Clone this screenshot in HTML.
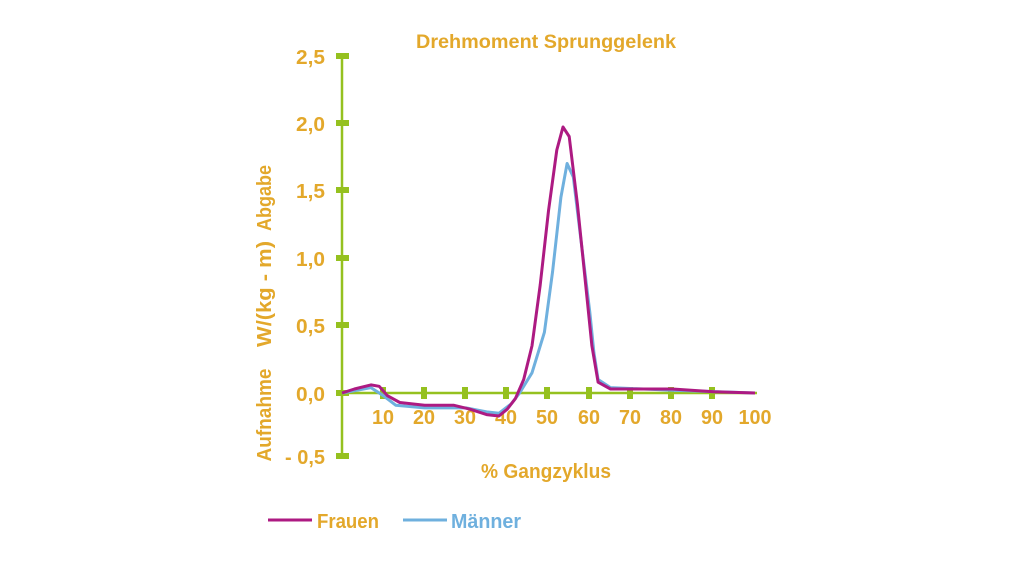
<!DOCTYPE html>
<html><head><meta charset="utf-8"><style>
body{margin:0;width:1024px;height:576px;background:#fff;overflow:hidden}
svg text{font-family:"Liberation Sans",sans-serif;font-weight:bold;fill:#e3a82b}
</style></head><body>
<svg width="1024" height="576" viewBox="0 0 1024 576">
<text x="546" y="48" font-size="19" text-anchor="middle" textLength="260" lengthAdjust="spacingAndGlyphs">Drehmoment Sprunggelenk</text>
<g stroke="#95c11f" stroke-width="2.5"><line x1="342" y1="56" x2="342" y2="457"/><line x1="342" y1="393" x2="757" y2="393"/></g>
<g fill="#95c11f">
<rect x="336" y="53" width="13" height="6"/><rect x="336" y="120" width="13" height="6"/><rect x="336" y="187" width="13" height="6"/><rect x="336" y="255" width="13" height="6"/><rect x="336" y="322" width="13" height="6"/><rect x="336" y="390" width="13" height="6"/><rect x="336" y="453" width="13" height="6"/>
<rect x="380" y="387" width="6" height="12"/><rect x="421" y="387" width="6" height="12"/><rect x="462" y="387" width="6" height="12"/><rect x="503" y="387" width="6" height="12"/><rect x="544" y="387" width="6" height="12"/><rect x="586" y="387" width="6" height="12"/><rect x="627" y="387" width="6" height="12"/><rect x="668" y="387" width="6" height="12"/><rect x="709" y="387" width="6" height="12"/>
</g>
<g font-size="20" text-anchor="end">
<text x="325" y="64" textLength="29" lengthAdjust="spacingAndGlyphs">2,5</text><text x="325" y="131" textLength="29" lengthAdjust="spacingAndGlyphs">2,0</text><text x="325" y="198" textLength="29" lengthAdjust="spacingAndGlyphs">1,5</text><text x="325" y="266" textLength="29" lengthAdjust="spacingAndGlyphs">1,0</text><text x="325" y="333" textLength="29" lengthAdjust="spacingAndGlyphs">0,5</text><text x="325" y="401" textLength="29" lengthAdjust="spacingAndGlyphs">0,0</text><text x="325" y="464" textLength="40" lengthAdjust="spacingAndGlyphs">- 0,5</text>
</g>
<g font-size="20" text-anchor="middle">
<text x="383" y="424" textLength="22" lengthAdjust="spacingAndGlyphs">10</text><text x="424" y="424" textLength="22" lengthAdjust="spacingAndGlyphs">20</text><text x="465" y="424" textLength="22" lengthAdjust="spacingAndGlyphs">30</text><text x="506" y="424" textLength="22" lengthAdjust="spacingAndGlyphs">40</text><text x="547" y="424" textLength="22" lengthAdjust="spacingAndGlyphs">50</text><text x="589" y="424" textLength="22" lengthAdjust="spacingAndGlyphs">60</text><text x="630" y="424" textLength="22" lengthAdjust="spacingAndGlyphs">70</text><text x="671" y="424" textLength="22" lengthAdjust="spacingAndGlyphs">80</text><text x="712" y="424" textLength="22" lengthAdjust="spacingAndGlyphs">90</text><text x="755" y="424" textLength="33" lengthAdjust="spacingAndGlyphs">100</text>
</g>
<text x="546" y="478" font-size="20" text-anchor="middle" textLength="130" lengthAdjust="spacingAndGlyphs">% Gangzyklus</text>
<g font-size="20" text-anchor="middle">
<text transform="translate(271,415) rotate(-90)" textLength="93" lengthAdjust="spacingAndGlyphs">Aufnahme</text>
<text transform="translate(271,294) rotate(-90)" textLength="106" lengthAdjust="spacingAndGlyphs">W/(kg - m)</text>
<text transform="translate(271,198) rotate(-90)" textLength="66" lengthAdjust="spacingAndGlyphs">Abgabe</text>
</g>
<polyline points="342,393 370.9,387.6 383.3,395.7 395.7,405.2 424.6,407.9 465.9,407.9 486.6,411.9 498.9,413.3 511.3,403.8 519.6,393 532,372.8 544.4,332.3 552.6,271.5 560.9,197.3 567.1,163.5 573.3,177 581.5,244.5 589.8,312 593.9,352.5 598.1,379.5 610.5,387.6 672.4,390.3 755,393" fill="none" stroke="#6fb0de" stroke-width="3" stroke-linejoin="round"/>
<polyline points="342,393 354.4,389 370.9,384.9 379.2,386.3 387.4,395.7 399.8,402.5 424.6,405.2 453.5,405.2 470,409.2 486.6,414.6 498.9,416 507.2,409.2 515.5,398.4 523.7,379.5 532,345.8 540.2,285 548.5,210.8 556.8,150 563,127 569.2,136.5 577.4,204 585.7,285 591.9,345.8 598.1,382.2 610.5,389 672.4,389 713.7,391.7 755,393" fill="none" stroke="#ad1a82" stroke-width="3" stroke-linejoin="round"/>
<line x1="268" y1="520" x2="312" y2="520" stroke="#ad1a82" stroke-width="3"/>
<text x="317" y="528" font-size="20" textLength="62" lengthAdjust="spacingAndGlyphs">Frauen</text>
<line x1="403" y1="520" x2="447" y2="520" stroke="#6fb0de" stroke-width="3"/>
<text x="451" y="528" font-size="20" style="fill:#6fb0de" textLength="70" lengthAdjust="spacingAndGlyphs">Männer</text>
</svg>
</body></html>
